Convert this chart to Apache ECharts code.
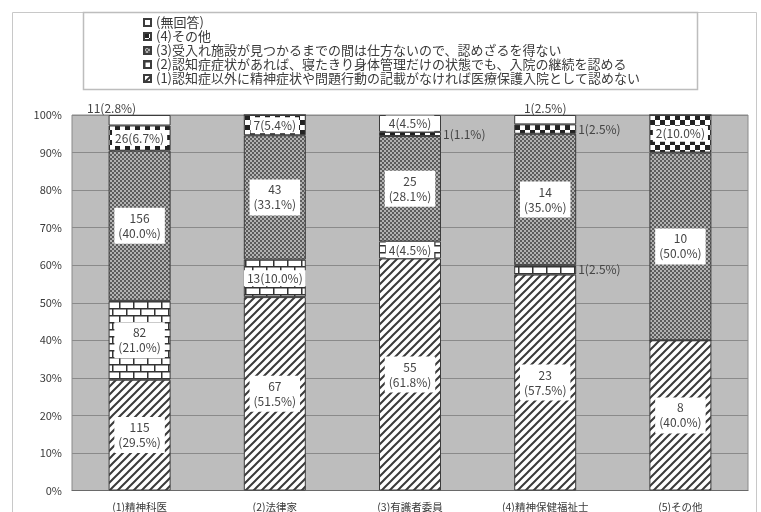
<!DOCTYPE html>
<html>
<head>
<meta charset="utf-8">
<title>医療保護入院の継続に関する回答</title>
<script src="https://cdn.jsdelivr.net/npm/echarts@6/dist/echarts.min.js"></script>
<style>
  html, body { margin: 0; padding: 0; background: #ffffff; }
  #chart { width: 761px; height: 512px; }
</style>
</head>
<body>
<div id="chart"></div>
<script>
// Respondent groups (x axis)
var categories = ['(1)精神科医', '(2)法律家', '(3)有識者委員', '(4)精神保健福祉士', '(5)その他'];

// Answer options, bottom of the stack first
var seriesNames = [
  '(1)認知症以外に精神症状や問題行動の記載がなければ医療保護入院として認めない',
  '(2)認知症症状があれば、寝たきり身体管理だけの状態でも、入院の継続を認める',
  '(3)受入れ施設が見つかるまでの間は仕方ないので、認めざるを得ない',
  '(4)その他',
  '(無回答)'
];

// Response counts per group
var countsOpt1 = [115, 67, 55, 23, 8];
var countsOpt2 = [82, 13, 4, 1, 0];
var countsOpt3 = [156, 43, 25, 14, 10];
var countsOpt4 = [26, 7, 1, 1, 2];
var countsNoAnswer = [11, 0, 4, 1, 0];

// Y axis ticks
var yTicks = [0, 10, 20, 30, 40, 50, 60, 70, 80, 90, 100];

var allCounts = [countsOpt1, countsOpt2, countsOpt3, countsOpt4, countsNoAnswer];
var totals = categories.map(function (_, i) {
  return allCounts.reduce(function (s, arr) { return s + arr[i]; }, 0);
});

// ---- fill patterns ----
function makeCanvas(w, h) {
  var c = document.createElement('canvas');
  c.width = w; c.height = h;
  return c;
}
function hatchPattern() {
  var c = makeCanvas(8, 8), g = c.getContext('2d');
  g.fillStyle = '#ffffff'; g.fillRect(0, 0, 8, 8);
  g.strokeStyle = '#3a3a3a'; g.lineWidth = 2;
  g.beginPath();
  g.moveTo(-1, 9); g.lineTo(9, -1);
  g.moveTo(-5, 5); g.lineTo(5, -5);
  g.moveTo(3, 13); g.lineTo(13, 3);
  g.stroke();
  return c;
}
function brickPattern() {
  var c = makeCanvas(14, 14), g = c.getContext('2d');
  g.fillStyle = '#ffffff'; g.fillRect(0, 0, 14, 14);
  g.fillStyle = '#333333';
  g.fillRect(0, 0, 14, 1.5);
  g.fillRect(0, 7, 14, 1.5);
  g.fillRect(0, 0, 1.5, 7);
  g.fillRect(7, 7, 1.5, 7);
  return c;
}
function dotPattern() {
  var c = makeCanvas(4, 4), g = c.getContext('2d');
  g.fillStyle = '#b2b2b2'; g.fillRect(0, 0, 4, 4);
  g.fillStyle = '#5c5c5c';
  g.fillRect(0, 0, 2, 2);
  g.fillRect(2, 2, 2, 2);
  return c;
}
function checkerPattern() {
  var c = makeCanvas(10, 10), g = c.getContext('2d');
  g.fillStyle = '#ffffff'; g.fillRect(0, 0, 10, 10);
  g.fillStyle = '#222222';
  g.fillRect(0, 0, 5, 5);
  g.fillRect(5, 5, 5, 5);
  return c;
}

var fills = [
  { image: hatchPattern(), repeat: 'repeat' },
  { image: brickPattern(), repeat: 'repeat' },
  { image: dotPattern(), repeat: 'repeat' },
  { image: checkerPattern(), repeat: 'repeat' },
  '#ffffff'
];

// Small segments get their label outside the bar
var labelNudge = { '4-0': [-28, 0] };

function buildData(si) {
  var counts = allCounts[si];
  return counts.map(function (cnt, ci) {
    var pct = Math.round(cnt / totals[ci] * 1000) / 10;
    var pctText = pct.toFixed(1);
    var label;
    if (cnt === 0) {
      label = { show: false };
    } else if (pct >= 15) {
      label = {
        show: true, position: 'inside',
        formatter: cnt + '\n(' + pctText + '%)',
        backgroundColor: '#ffffff', padding: [3, 4], lineHeight: 15
      };
    } else if (pct >= 3.5) {
      label = {
        show: true, position: 'inside',
        formatter: cnt + '(' + pctText + '%)',
        backgroundColor: '#ffffff', padding: [1, 3], lineHeight: 14
      };
    } else {
      var top = si === allCounts.length - 1;
      label = {
        show: true, position: top ? 'top' : 'right', distance: top ? 1 : 2,
        formatter: cnt + '(' + pctText + '%)',
        backgroundColor: 'transparent', padding: 0
      };
      var key = si + '-' + ci;
      if (labelNudge[key]) label.offset = labelNudge[key];
    }
    return { value: pct, label: label };
  });
}

var fontFamily = '"Noto Sans CJK JP", "Noto Sans", sans-serif';

var series = seriesNames.map(function (name, si) {
  return {
    name: name,
    type: 'bar',
    stack: 'total',
    barWidth: 62,
    data: buildData(si),
    itemStyle: {
      color: fills[si],
      borderColor: '#3c3c3c',
      borderWidth: 1
    },
    label: {
      color: '#444444',
      fontSize: 12,
      fontFamily: fontFamily
    },
    emphasis: { disabled: true },
    animation: false
  };
});

var chart = echarts.init(document.getElementById('chart'), null, { renderer: 'canvas' });
chart.setOption({
  backgroundColor: '#ffffff',
  animation: false,
  textStyle: { fontFamily: fontFamily },
  graphic: [
    {
      type: 'rect', silent: true, z: -1,
      shape: { x: 12.5, y: 12.5, width: 744, height: 520 },
      style: { fill: 'none', stroke: '#c8c8c8', lineWidth: 1 }
    },
    {
      type: 'rect', silent: true, z: -1,
      shape: { x: 83.5, y: 12.5, width: 614, height: 77 },
      style: { fill: '#ffffff', stroke: '#bdbdbd', lineWidth: 1.5 }
    }
  ],
  legend: {
    orient: 'vertical',
    left: 143,
    top: 16,
    padding: 0,
    icon: 'rect',
    itemWidth: 7,
    itemHeight: 7,
    itemGap: 1,
    data: seriesNames.slice().reverse(),
    textStyle: { fontSize: 13, lineHeight: 12.5, color: '#3a3a3a', fontFamily: fontFamily },
    selectedMode: false
  },
  grid: {
    left: 72, right: 13, top: 115, bottom: 21,
    show: true,
    backgroundColor: '#bdbdbd',
    borderColor: '#8a8a8a',
    borderWidth: 1
  },
  xAxis: {
    type: 'category',
    data: categories,
    axisTick: { show: false },
    axisLine: { lineStyle: { color: '#6a6a6a' } },
    axisLabel: { color: '#3a3a3a', fontSize: 10.5, margin: 11, fontFamily: fontFamily }
  },
  yAxis: {
    type: 'value',
    min: yTicks[0],
    max: yTicks[yTicks.length - 1],
    interval: yTicks[1] - yTicks[0],
    axisLine: { show: false },
    axisTick: { show: false },
    axisLabel: { formatter: '{value}%', color: '#3a3a3a', fontSize: 11, margin: 10, fontFamily: fontFamily },
    splitLine: { lineStyle: { color: '#8a8a8a', width: 1 } }
  },
  series: series
});
</script>
</body>
</html>
